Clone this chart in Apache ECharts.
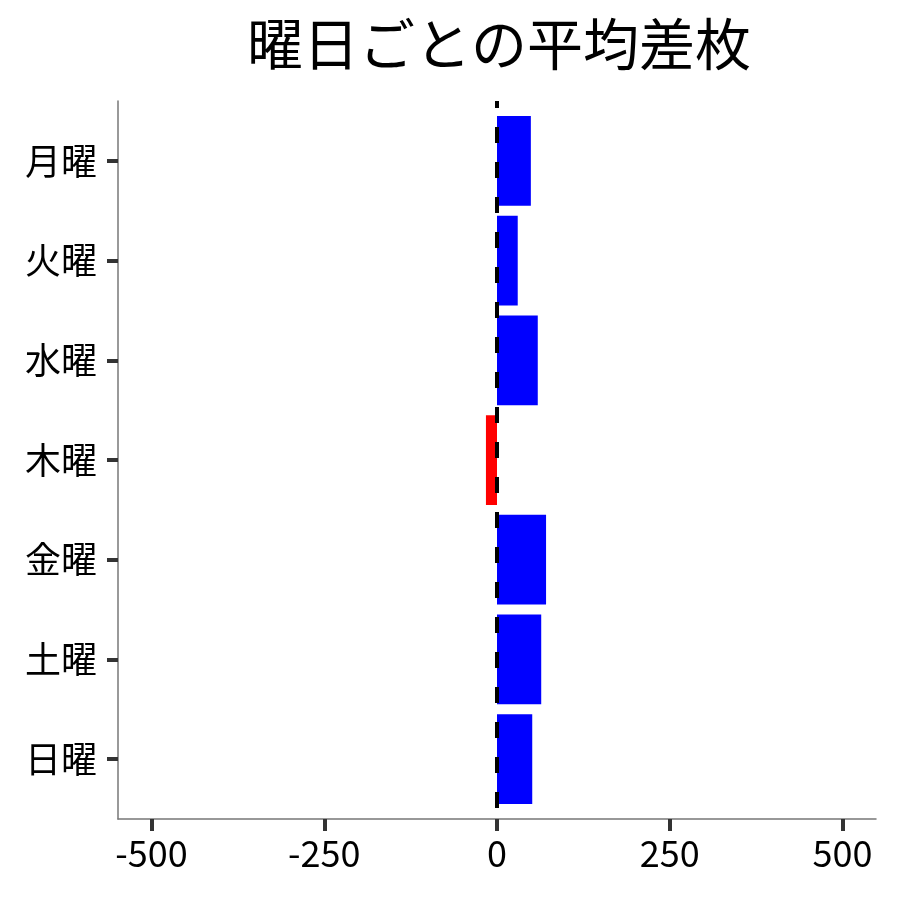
<!DOCTYPE html>
<html>
<head>
<meta charset="utf-8">
<script src="https://cdn.jsdelivr.net/npm/echarts@6/dist/echarts.min.js"></script>
<style>
  html, body { margin: 0; padding: 0; background: #fff; }
  #chart { width: 900px; height: 900px; }
</style>
</head>
<body>
<div id="chart"></div>
<script>
const days = ['月曜', '火曜', '水曜', '木曜', '金曜', '土曜', '日曜'];
const diffs = [49, 30, 59, -16, 71, 64, 51];
const xTicks = [-500, -250, 0, 250, 500];
const dayPos = [1, 2, 3, 4, 5, 6, 7];

const FONT = 'Noto Sans CJK JP';

function draw_chart() {
  const chart = echarts.init(document.getElementById('chart'));
  const barData = diffs.map((v, i) => [v, dayPos[i]]);

  chart.setOption({
    backgroundColor: '#FFFFFF',
    animation: false,
    title: {
      text: '曜日ごとの平均差枚',
      left: 242,
      top: 11,
      textStyle: { fontFamily: FONT, fontSize: 56, fontWeight: 'normal', color: '#000' }
    },
    grid: { left: 118, right: 24, top: 101, bottom: 81 },
    xAxis: {
      type: 'value',
      min: -548.5,
      max: 548.5,
      axisLine: { show: true, onZero: false, lineStyle: { color: '#777', width: 1.5 } },
      axisTick: { show: true, inside: false, customValues: xTicks, length: 12, lineStyle: { color: '#333', width: 4 } },
      axisLabel: {
        customValues: xTicks,
        margin: 16,
        fontFamily: FONT, fontSize: 36, color: '#000'
      },
      splitLine: { show: false }
    },
    yAxis: {
      type: 'value',
      inverse: true,
      min: 0.4,
      max: 7.6,
      axisLine: { show: true, onZero: false, lineStyle: { color: '#777', width: 1.5 } },
      axisTick: { show: true, inside: false, customValues: dayPos, length: 11, lineStyle: { color: '#333', width: 4 } },
      axisLabel: {
        customValues: dayPos,
        formatter: v => days[Math.round(v) - 1] || '',
        margin: 21,
        fontFamily: FONT, fontSize: 36, color: '#000'
      },
      splitLine: { show: false }
    },
    series: [{
      // 横棒（y軸がvalueなのでcustomで描く）
      type: 'custom',
      data: barData,
      encode: { x: 0, y: 1 },
      renderItem: function (params, api) {
        const v = api.value(0);
        const c = api.value(1);
        const p0 = api.coord([0, c]);
        const p1 = api.coord([v, c]);
        const h = Math.abs(api.size([0, 0.9])[1]);
        return {
          type: 'rect',
          shape: {
            x: Math.min(p0[0], p1[0]),
            y: p0[1] - h / 2,
            width: Math.abs(p1[0] - p0[0]),
            height: h
          },
          style: { fill: v < 0 ? '#FF0000' : '#0000FF' }
        };
      },
      z: 2
    }, {
      // 0の破線
      type: 'line',
      data: [[0, 0.4], [0, 7.6]],
      symbol: 'none',
      lineStyle: { color: '#000', width: 4, type: [16, 19], dashOffset: 9 },
      z: 3
    }]
  });
}
draw_chart();
</script>
</body>
</html>
